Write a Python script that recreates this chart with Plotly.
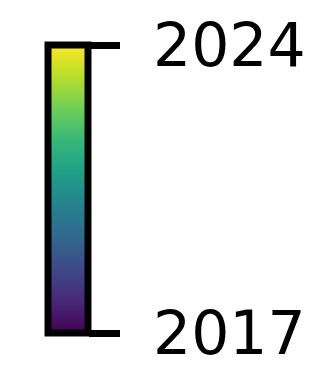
import numpy as np
import plotly.graph_objects as go

# Year span shown by the colour scale
year_start = 2017
year_end = 2024
tick_years = [2017, 2024]
tick_labels = ["2017", "2024"]

# Fine vertical gradient between the two end years
levels = np.linspace(year_start, year_end, 400)
z = [[v] for v in levels]

fig = go.Figure(
    go.Heatmap(
        x=[0],
        y=levels,
        z=z,
        colorscale="Viridis",
        zmin=year_start,
        zmax=year_end,
        showscale=False,
        hoverinfo="skip",
    )
)

fig.update_xaxes(
    range=[-0.5, 0.5],
    showticklabels=False,
    ticks="",
    showgrid=False,
    zeroline=False,
    showline=False,
    automargin=False,
)
fig.update_yaxes(
    range=[year_start, year_end],
    side="right",
    tickvals=tick_years,
    ticktext=tick_labels,
    ticks="outside",
    ticklen=31,
    tickwidth=7,
    tickcolor="black",
    ticklabelstandoff=21,
    ticklabeloverflow="allow",
    tickfont=dict(family="DejaVu Sans", size=60, color="black"),
    showgrid=False,
    zeroline=False,
    showline=False,
    automargin=False,
)

# Black frame around the colour bar, centred on the plot-area edges
fig.add_shape(
    type="rect",
    xref="paper", yref="paper",
    x0=0, x1=1, y0=0, y1=1,
    line=dict(color="black", width=7),
    fillcolor="rgba(0,0,0,0)",
    layer="above",
)

fig.update_layout(
    width=323,
    height=365,
    margin=dict(l=47.5, r=234.5, t=44.5, b=31.5, pad=0),
    paper_bgcolor="white",
    plot_bgcolor="white",
    showlegend=False,
)

fig.write_html("out.html")
